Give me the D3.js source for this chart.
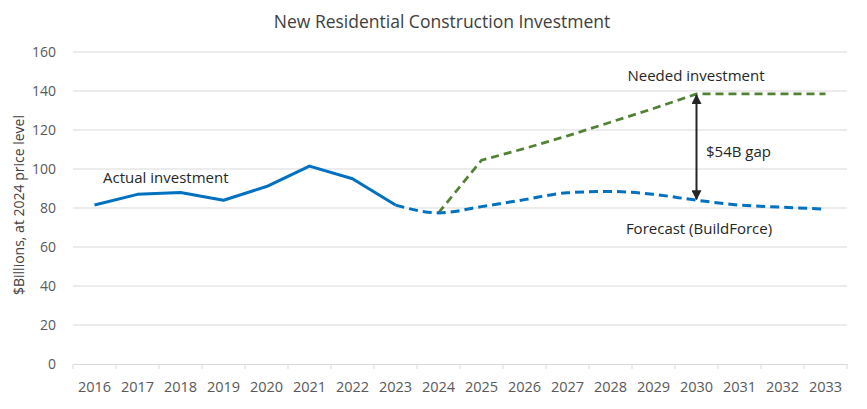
<!DOCTYPE html>
<html>
<head>
<meta charset="utf-8">
<script src="https://cdn.jsdelivr.net/npm/d3@7"></script>
<style>
  body { margin: 0; background: #fff; }
  svg text { font-family: "Open Sans", "Noto Sans", sans-serif; }
</style>
</head>
<body>
<div id="chart"></div>
<script>
// Data
const years = ['2016','2017','2018','2019','2020','2021','2022','2023','2024',
  '2025','2026','2027','2028','2029','2030','2031','2032','2033'];
const actual = [81.5, 87, 88, 84, 91, 101.5, 95, 81.5];
const forecastYears = ['2023','2024','2025','2026','2027','2028','2029','2030','2031','2032','2033'];
const forecast = [81.5, 77.5, 80.7, 84.3, 87.8, 88.5, 87, 84, 81.5, 80.4, 79.4];
const neededYears = ['2024','2025','2026','2027','2028','2029','2030','2031','2032','2033'];
const needed = [77.5, 104.5, 110.5, 117, 124, 131, 138.5, 138.5, 138.5, 138.5];
const yTicks = [0, 20, 40, 60, 80, 100, 120, 140, 160];

const width = 867, height = 409;
const margin = { top: 52, right: 20, bottom: 45, left: 73 };

const svg = d3.select('#chart').append('svg')
  .attr('width', width)
  .attr('height', height);

const x = d3.scaleBand()
  .domain(years)
  .range([margin.left, width - margin.right]);

const y = d3.scaleLinear()
  .domain([0, 160])
  .range([height - margin.bottom, margin.top]);

const cx = d => x(d) + x.bandwidth() / 2;

// Gridlines
svg.append('g')
  .selectAll('line')
  .data(yTicks.slice(1))
  .join('line')
  .attr('x1', margin.left)
  .attr('x2', width - margin.right)
  .attr('y1', d => y(d))
  .attr('y2', d => y(d))
  .attr('stroke', '#d9d9d9')
  .attr('stroke-width', 1);

// Y axis labels
svg.append('g')
  .selectAll('text')
  .data(yTicks)
  .join('text')
  .attr('x', 56)
  .attr('y', d => y(d))
  .attr('dy', '0.35em')
  .attr('text-anchor', 'end')
  .attr('fill', '#595959')
  .attr('font-size', 14)
  .text(d => d);

// X axis
const xAxis = svg.append('g')
  .attr('transform', `translate(0,${y(0)})`)
  .call(d3.axisBottom(x).tickSize(0).tickPadding(18));
xAxis.select('.domain').attr('stroke', '#d9d9d9');
xAxis.selectAll('text')
  .attr('fill', '#595959')
  .attr('font-size', 14.5)
  .attr('font-family', '"Open Sans", sans-serif');

// category boundary ticks
svg.append('g')
  .selectAll('line')
  .data(years.concat(['end']))
  .join('line')
  .attr('x1', (d, i) => margin.left + i * x.bandwidth())
  .attr('x2', (d, i) => margin.left + i * x.bandwidth())
  .attr('y1', y(0))
  .attr('y2', y(0) + 5)
  .attr('stroke', '#d9d9d9');

// Title
svg.append('text')
  .attr('x', 442)
  .attr('y', 28)
  .attr('text-anchor', 'middle')
  .attr('fill', '#404040')
  .attr('font-size', 17.5)
  .text('New Residential Construction Investment');

// Y axis title
svg.append('text')
  .attr('transform', `translate(24,205) rotate(-90)`)
  .attr('text-anchor', 'middle')
  .attr('fill', '#404040')
  .attr('font-size', 14)
  .text('$Billions, at 2024 price level');

// Lines
const line = d3.line().x(d => cx(d[0])).y(d => y(d[1]));
const smooth = d3.line().x(d => cx(d[0])).y(d => y(d[1])).curve(d3.curveMonotoneX);

svg.append('path')
  .datum(d3.zip(neededYears, needed))
  .attr('d', line)
  .attr('fill', 'none')
  .attr('stroke', '#548235')
  .attr('stroke-width', 2.75)
  .attr('stroke-dasharray', '8,5');

svg.append('path')
  .datum(d3.zip(forecastYears, forecast))
  .attr('d', smooth)
  .attr('fill', 'none')
  .attr('stroke', '#0070c0')
  .attr('stroke-width', 3)
  .attr('stroke-dasharray', '9,5');

svg.append('path')
  .datum(d3.zip(years.slice(0, actual.length), actual))
  .attr('d', line)
  .attr('fill', 'none')
  .attr('stroke', '#0070c0')
  .attr('stroke-width', 3)
  .attr('stroke-linejoin', 'round');

// Gap arrow at 2030
const defs = svg.append('defs');
defs.append('marker')
  .attr('id', 'arrow')
  .attr('viewBox', '0 0 10 10')
  .attr('refX', 9)
  .attr('refY', 5)
  .attr('markerWidth', 5)
  .attr('markerHeight', 5)
  .attr('orient', 'auto-start-reverse')
  .append('path')
  .attr('d', 'M0,0 L10,5 L0,10 Z')
  .attr('fill', '#262626');

const gapYear = '2030';
const gapTop = needed[neededYears.indexOf(gapYear)];
const gapBottom = forecast[forecastYears.indexOf(gapYear)];
svg.append('line')
  .attr('x1', cx(gapYear))
  .attr('x2', cx(gapYear))
  .attr('y1', y(gapTop) + 1)
  .attr('y2', y(gapBottom) - 1)
  .attr('stroke', '#262626')
  .attr('stroke-width', 2)
  .attr('marker-start', 'url(#arrow)')
  .attr('marker-end', 'url(#arrow)');

// Annotations
const notes = [
  { text: 'Actual investment', x: 103, y: 183, anchor: 'start' },
  { text: 'Needed investment', x: 696, y: 81, anchor: 'middle' },
  { text: '$54B gap', x: 706, y: 157, anchor: 'start' },
  { text: 'Forecast (BuildForce)', x: 699, y: 234, anchor: 'middle' }
];
svg.append('g')
  .selectAll('text')
  .data(notes)
  .join('text')
  .attr('x', d => d.x)
  .attr('y', d => d.y)
  .attr('text-anchor', d => d.anchor)
  .attr('fill', '#262626')
  .attr('font-size', 15)
  .text(d => d.text);
</script>
</body>
</html>
